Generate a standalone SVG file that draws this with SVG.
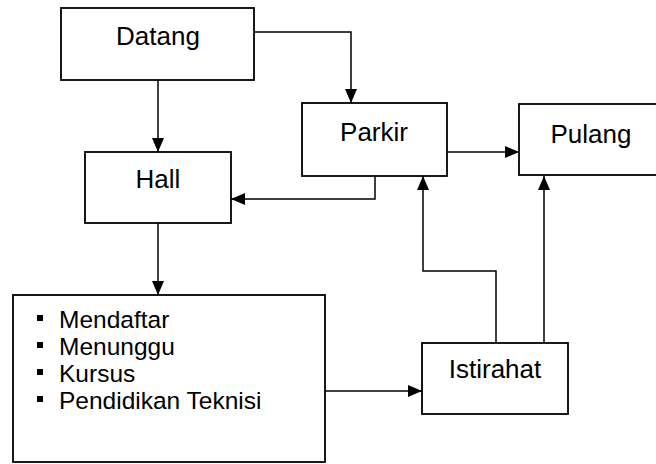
<svg xmlns="http://www.w3.org/2000/svg" width="656" height="464" viewBox="0 0 656 464">
  <style>
    .box { fill: #ffffff; stroke: #000000; stroke-width: 1.8; }
    .lbl { font-family: "Liberation Sans", Arial, sans-serif; font-size: 26px; fill: #000000; text-anchor: middle; }
    .item { font-family: "Liberation Sans", Arial, sans-serif; font-size: 24.5px; fill: #000000; }
    .wire { fill: none; stroke: #000000; stroke-width: 1.5; }
  </style>
  <defs>
    <marker id="arrow" viewBox="0 0 14 12" refX="14" refY="6" markerWidth="14" markerHeight="12" markerUnits="userSpaceOnUse" orient="auto">
      <path d="M0,0 L14,6 L0,12 Z" fill="#000000"/>
    </marker>
  </defs>

  <rect width="656" height="464" fill="#ffffff"/>

  <g id="connectors">
    <!-- Datang -> Hall -->
    <path class="wire" d="M158,80 V152" marker-end="url(#arrow)"/>
    <!-- Datang -> Parkir -->
    <path class="wire" d="M254,32 H351 V103" marker-end="url(#arrow)"/>
    <!-- Parkir -> Hall -->
    <path class="wire" d="M375,176 V199 H231" marker-end="url(#arrow)"/>
    <!-- Parkir -> Pulang -->
    <path class="wire" d="M447,152 H519" marker-end="url(#arrow)"/>
    <!-- Hall -> activities -->
    <path class="wire" d="M158,223 V295" marker-end="url(#arrow)"/>
    <!-- activities -> Istirahat -->
    <path class="wire" d="M325,391 H422" marker-end="url(#arrow)"/>
    <!-- Istirahat -> Parkir -->
    <path class="wire" d="M496,343 V271 H423 V176" marker-end="url(#arrow)"/>
    <!-- Istirahat -> Pulang -->
    <path class="wire" d="M544,343 V176" marker-end="url(#arrow)"/>
  </g>

  <g id="datang">
    <rect class="box" x="61" y="8" width="193" height="72"/>
    <text class="lbl" x="158" y="45">Datang</text>
  </g>

  <g id="parkir">
    <rect class="box" x="302" y="103" width="145" height="73"/>
    <text class="lbl" x="374" y="141">Parkir</text>
  </g>

  <g id="pulang">
    <rect class="box" x="519" y="104" width="146" height="71"/>
    <text class="lbl" x="591" y="143">Pulang</text>
  </g>

  <g id="hall">
    <rect class="box" x="85" y="152" width="146" height="71"/>
    <text class="lbl" x="158" y="188">Hall</text>
  </g>

  <g id="kegiatan">
    <rect class="box" x="13" y="295" width="312" height="167"/>
    <rect x="37" y="315" width="6" height="6"/>
    <text class="item" x="59" y="328">Mendaftar</text>
    <rect x="37" y="342" width="6" height="6"/>
    <text class="item" x="59" y="355">Menunggu</text>
    <rect x="37" y="369" width="6" height="6"/>
    <text class="item" x="59" y="382">Kursus</text>
    <rect x="37" y="396" width="6" height="6"/>
    <text class="item" x="59" y="409">Pendidikan Teknisi</text>
  </g>

  <g id="istirahat">
    <rect class="box" x="422" y="343" width="146" height="71"/>
    <text class="lbl" x="495" y="378">Istirahat</text>
  </g>
</svg>
